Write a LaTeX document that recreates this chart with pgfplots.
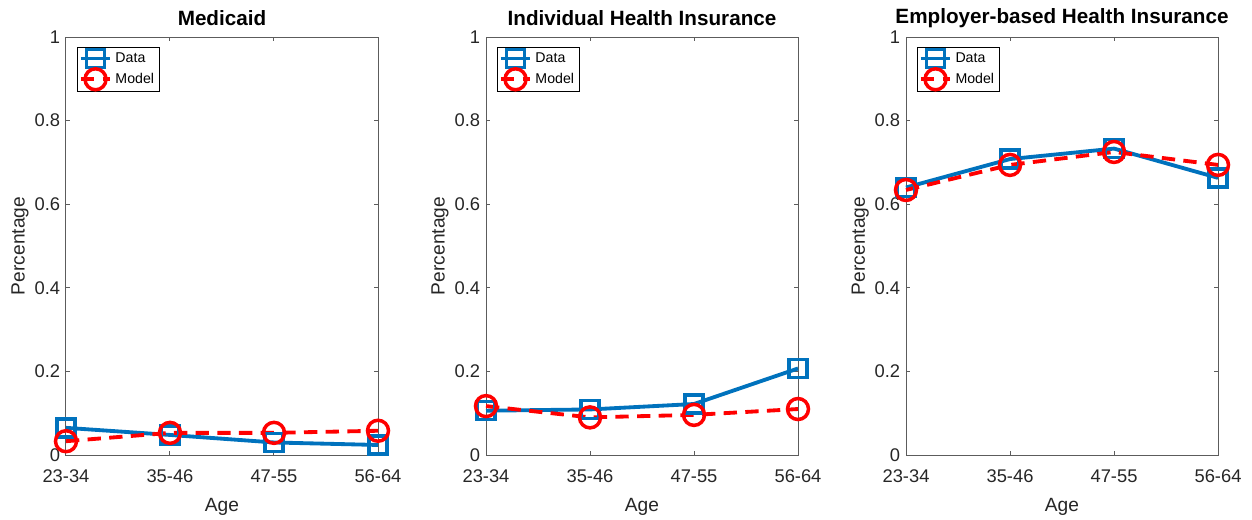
\documentclass[border=0pt]{standalone}
\usepackage{pgfplots}
\pgfplotsset{compat=1.18}
\usepackage{fontspec}
\setmainfont{Liberation Sans}

\definecolor{mblue}{RGB}{0,114,189}
\definecolor{mred}{RGB}{255,0,0}
\definecolor{axgray}{RGB}{38,38,38}

\pgfplotsset{
  panel/.style={
    scale only axis, width=187.2pt, height=250.8pt,
    xmin=0, xmax=3, ymin=0, ymax=1,
    xtick={0,1,2,3}, xticklabels={23-34,35-46,47-55,56-64},
    ytick={0,0.2,0.4,0.6,0.8,1},
    tick align=inside, major tick length=2.6pt,
    tick style={axgray!75, line width=0.6pt},
    axis line style={axgray!75, line width=0.6pt},
    xlabel=Age, ylabel=Percentage,
    tick label style={font=\fontsize{11}{13}\selectfont, text=axgray},
    /pgf/number format/assume math mode=true,
    label style={font=\fontsize{11.5}{13}\selectfont, text=axgray},
    xticklabel style={yshift=-5.5pt},
    xlabel style={at={(axis description cs:0.5,-0.123)}, anchor=center},
    ylabel style={at={(axis description cs:-0.147,0.5)}, anchor=center},
    every axis title shift=0pt,
    title style={font=\bfseries\fontsize{12.4}{14}\selectfont,
      at={(axis description cs:0.5,1.046)}, anchor=center},
    clip=false,
    legend style={at={(axis description cs:0.035,0.976)}, anchor=north west,
      font=\fontsize{8.5}{10}\selectfont, draw=black, line width=0.4pt,
      inner xsep=1pt, inner ysep=1pt, row sep=0.5pt},
    legend cell align=left,
    legend image code/.code={
      \draw[mark repeat=2,mark phase=2] plot coordinates {(0cm,0cm) (0.31cm,0cm) (0.62cm,0cm)};
    },
  },
  dataline/.style={color=mblue, line width=2.3pt, mark=square,
    mark size=5.4pt, mark options={solid, line width=2.1pt}},
  modelline/.style={color=mred, line width=2.3pt, dash pattern=on 8pt off 5pt,
    mark=o, mark size=6.3pt, mark options={solid, line width=2.1pt}},
}

\begin{document}
\begin{tikzpicture}

\begin{axis}[panel, title={Medicaid}, at={(0pt,0pt)}, anchor=south west]
\addplot[dataline] coordinates {(0,0.065) (1,0.048) (2,0.030) (3,0.024)};
\addplot[modelline] coordinates {(0,0.033) (1,0.053) (2,0.053) (3,0.058)};
\legend{Data, Model}
\end{axis}

\begin{axis}[panel, title={Individual Health Insurance}, at={(252pt,0pt)}, anchor=south west]
\addplot[dataline] coordinates {(0,0.106) (1,0.109) (2,0.122) (3,0.207)};
\addplot[modelline] coordinates {(0,0.117) (1,0.090) (2,0.096) (3,0.110)};
\legend{Data, Model}
\end{axis}

\begin{axis}[panel, title={Employer-based Health Insurance}, at={(504pt,0pt)}, anchor=south west]
\addplot[dataline] coordinates {(0,0.640) (1,0.708) (2,0.733) (3,0.663)};
\addplot[modelline] coordinates {(0,0.634) (1,0.694) (2,0.725) (3,0.694)};
\legend{Data, Model}
\end{axis}

\pgfresetboundingbox
\path[use as bounding box] (-39.6pt,-38.4pt) rectangle (711.6pt,273pt);
\end{tikzpicture}
\end{document}
